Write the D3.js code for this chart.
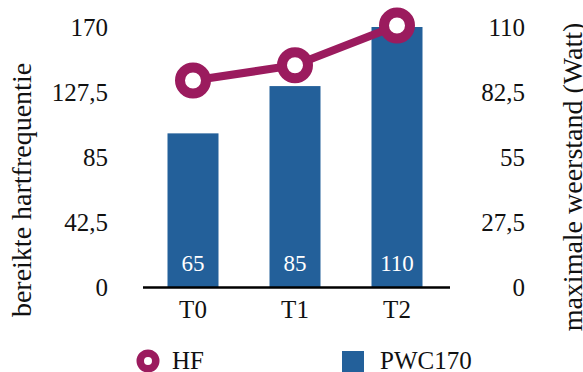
<!DOCTYPE html>
<html>
<head>
<meta charset="utf-8">
<script src="https://cdn.jsdelivr.net/npm/d3@7"></script>
<style>
  html, body { margin: 0; padding: 0; background: #fff; }
  svg { display: block; }
  text { font-family: "Liberation Serif", "Times New Roman", serif; }
</style>
</head>
<body>
<svg id="chart" width="583" height="372"></svg>
<script>
// Meetmomenten en waarden
const categories = ["T0", "T1", "T2"];
const hfValues = [135, 145, 171];          // bereikte hartfrequentie (linker as)
const pwcValues = [65, 85, 110];           // maximale weerstand in Watt (rechter as)
const leftTicks = [0, 42.5, 85, 127.5, 170];
const rightTicks = [0, 27.5, 55, 82.5, 110];
const seriesNames = ["HF", "PWC170"];

const COLOR_HF = "#9b1b5e";
const COLOR_PWC = "#23609a";

const svg = d3.select("#chart");
const fmt = d => String(d).replace(".", ",");

const x = d3.scaleBand().domain(categories).range([142, 448])
  .paddingInner(0.5).paddingOuter(0.25);
const yL = d3.scaleLinear().domain([0, 170]).range([287, 27]);
const yR = d3.scaleLinear().domain([0, 110]).range([287, 27]);

// Staven PWC170
svg.append("g").selectAll("rect").data(pwcValues).join("rect")
  .attr("x", (d, i) => x(categories[i]))
  .attr("width", x.bandwidth())
  .attr("y", d => yR(d))
  .attr("height", d => yR(0) - yR(d))
  .attr("fill", COLOR_PWC);

// Waardelabels in de staven
svg.append("g").selectAll("text").data(pwcValues).join("text")
  .attr("x", (d, i) => x(categories[i]) + x.bandwidth() / 2)
  .attr("y", 271)
  .attr("text-anchor", "middle")
  .attr("fill", "#fff")
  .attr("font-size", 23)
  .text(d => d);

// Basislijn
svg.append("line")
  .attr("x1", 143).attr("x2", 450)
  .attr("y1", yL(0) + 0.5).attr("y2", yL(0) + 0.5)
  .attr("stroke", "#000").attr("stroke-width", 2.5);

// Assen
const axisL = d3.axisLeft(yL).tickValues(leftTicks).tickFormat(fmt).tickSize(0).tickPadding(0);
const gL = svg.append("g").attr("transform", "translate(108,0)").call(axisL);
const axisR = d3.axisLeft(yR).tickValues(rightTicks).tickFormat(fmt).tickSize(0).tickPadding(0);
const gR = svg.append("g").attr("transform", "translate(525,0)").call(axisR);
const axisX = d3.axisBottom(x).tickSize(0).tickPadding(0);
const gX = svg.append("g").attr("transform", "translate(0,300)").call(axisX);
[gL, gR, gX].forEach(g => {
  g.select(".domain").remove();
  g.selectAll("text").attr("font-family", "Liberation Serif, Times New Roman, serif")
    .attr("font-size", 25).attr("fill", "#111");
});
gL.selectAll("text").attr("dy", "0.33em");
gR.selectAll("text").attr("dy", "0.33em");
gX.selectAll("text").attr("dy", "0.71em");

// Lijn HF
const line = d3.line()
  .x((d, i) => x(categories[i]) + x.bandwidth() / 2)
  .y(d => yL(d));
svg.append("path").datum(hfValues)
  .attr("d", line)
  .attr("fill", "none")
  .attr("stroke", COLOR_HF)
  .attr("stroke-width", 8);
svg.append("g").selectAll("circle").data(hfValues).join("circle")
  .attr("cx", (d, i) => x(categories[i]) + x.bandwidth() / 2)
  .attr("cy", d => yL(d))
  .attr("r", 13)
  .attr("fill", "#fff")
  .attr("stroke", COLOR_HF)
  .attr("stroke-width", 10);

// Astitels
svg.append("text")
  .attr("transform", "translate(31,190) rotate(-90)")
  .attr("text-anchor", "middle")
  .attr("font-size", 28).attr("fill", "#111")
  .text("bereikte hartfrequentie");
svg.append("text")
  .attr("transform", "translate(582,177) rotate(-90)")
  .attr("text-anchor", "middle")
  .attr("font-size", 28).attr("fill", "#111")
  .text("maximale weerstand (Watt)");

// Legenda
const leg = svg.append("g");
leg.append("circle").attr("cx", 148).attr("cy", 361).attr("r", 7.75)
  .attr("fill", "#fff").attr("stroke", COLOR_HF).attr("stroke-width", 7.5);
leg.append("text").attr("x", 172).attr("y", 369).attr("font-size", 25).attr("fill", "#111")
  .text(seriesNames[0]);
leg.append("rect").attr("x", 342).attr("y", 351).attr("width", 22).attr("height", 21)
  .attr("fill", COLOR_PWC);
leg.append("text").attr("x", 380).attr("y", 369).attr("font-size", 25).attr("fill", "#111")
  .text(seriesNames[1]);
</script>
</body>
</html>
